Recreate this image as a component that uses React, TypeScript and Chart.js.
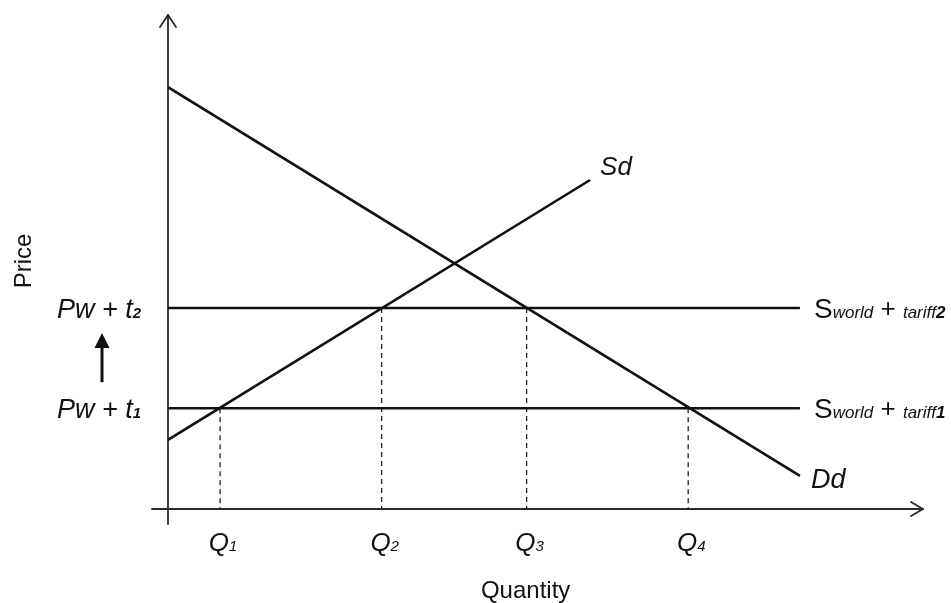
import React, { useEffect, useRef } from "react";
import { Chart, registerables } from "chart.js";

Chart.register(...registerables);

// ---- data ----
const demandQ = [0, 83.7];
const demandP = [85.4, 6.7];
const supplyQ = [0, 55.9];
const supplyP = [14.0, 66.6];
const worldPrices = [20.4, 40.7]; // Pw + t1, Pw + t2
const worldLineEndQ = 83.7;
const qSubs = ["1", "2", "3", "4"];
const qValues = [6.9, 28.3, 47.5, 68.9];
const qPrices = [20.4, 40.7, 40.7, 20.4];
const priceSubs = ["1", "2"];
const tariffSubs = ["1", "2"];
const xAxisTitle = "Quantity";
const yAxisTitle = "Price";

const FONT = '"Liberation Sans", Arial, Helvetica, sans-serif';
const INK = "#111111";

type Run = { text: string; font: string; dy?: number };

function drawRuns(ctx: CanvasRenderingContext2D, x: number, y: number, runs: Run[], align: "left" | "center") {
  let total = 0;
  for (const r of runs) {
    ctx.font = r.font;
    total += ctx.measureText(r.text).width;
  }
  let cx = align === "center" ? x - total / 2 : x;
  ctx.textAlign = "left";
  ctx.textBaseline = "alphabetic";
  for (const r of runs) {
    ctx.font = r.font;
    ctx.fillText(r.text, cx, y + (r.dy || 0));
    cx += ctx.measureText(r.text).width;
  }
}

const decorPlugin = {
  id: "decor",
  beforeDatasetsDraw(chart: any) {
    const { ctx, chartArea } = chart;
    const { left, right, top, bottom } = chartArea;
    ctx.save();
    ctx.strokeStyle = "#2a2a2a";
    ctx.lineWidth = 1.8;
    ctx.lineCap = "round";
    ctx.lineJoin = "round";
    // y axis
    ctx.beginPath();
    ctx.moveTo(left, bottom + 15);
    ctx.lineTo(left, top);
    ctx.stroke();
    ctx.beginPath();
    ctx.moveTo(left - 8, top + 12);
    ctx.lineTo(left, top);
    ctx.lineTo(left + 8, top + 12);
    ctx.stroke();
    // x axis
    ctx.beginPath();
    ctx.moveTo(left - 16, bottom);
    ctx.lineTo(right, bottom);
    ctx.stroke();
    ctx.beginPath();
    ctx.moveTo(right - 12, bottom - 7);
    ctx.lineTo(right, bottom);
    ctx.lineTo(right - 12, bottom + 7);
    ctx.stroke();
    ctx.restore();
  },
  afterDraw(chart: any) {
    const { ctx, chartArea, scales } = chart;
    const xs = scales.x;
    const ys = scales.y;
    ctx.save();
    ctx.fillStyle = INK;

    // axis titles
    ctx.font = `24px ${FONT}`;
    ctx.textAlign = "center";
    ctx.textBaseline = "alphabetic";
    ctx.fillText(xAxisTitle, xs.getPixelForValue(47.5) - 1, 598);
    ctx.save();
    ctx.translate(31, 261);
    ctx.rotate(-Math.PI / 2);
    ctx.textBaseline = "alphabetic";
    ctx.fillText(yAxisTitle, 0, 0);
    ctx.restore();

    // price labels on the left
    worldPrices.forEach((p, i) => {
      const y = ys.getPixelForValue(p);
      drawRuns(ctx, 57, y + 10, [
        { text: "Pw + t", font: `italic 27px ${FONT}` },
        { text: priceSubs[i], font: `italic bold 15px ${FONT}`, dy: 0 },
      ], "left");
    });

    // upward arrow between price labels
    const ax = 102;
    const yLow = ys.getPixelForValue(worldPrices[0]);
    const yHigh = ys.getPixelForValue(worldPrices[1]);
    const tipY = yHigh + 25;
    const baseY = yLow - 26;
    ctx.strokeStyle = INK;
    ctx.lineWidth = 3;
    ctx.beginPath();
    ctx.moveTo(ax, baseY);
    ctx.lineTo(ax, tipY + 12);
    ctx.stroke();
    ctx.beginPath();
    ctx.moveTo(ax, tipY);
    ctx.lineTo(ax - 7.5, tipY + 15);
    ctx.lineTo(ax + 7.5, tipY + 15);
    ctx.closePath();
    ctx.fill();

    // world supply labels on the right
    worldPrices.forEach((p, i) => {
      const y = ys.getPixelForValue(p);
      drawRuns(ctx, 814, y + 10, [
        { text: "S", font: `28px ${FONT}` },
        { text: "world", font: `italic 17px ${FONT}` },
        { text: " + ", font: `26px ${FONT}`, dy: -1 },
        { text: "tariff", font: `italic 17px ${FONT}` },
        { text: tariffSubs[i], font: `italic bold 17px ${FONT}` },
      ], "left");
    });

    // curve labels
    ctx.font = `italic 26px ${FONT}`;
    ctx.textAlign = "left";
    ctx.textBaseline = "alphabetic";
    const sEndX = xs.getPixelForValue(supplyQ[1]);
    const sEndY = ys.getPixelForValue(supplyP[1]);
    ctx.fillText("Sd", sEndX + 10, sEndY - 5);
    const dEndX = xs.getPixelForValue(demandQ[1]);
    const dEndY = ys.getPixelForValue(demandP[1]);
    ctx.font = `italic 27px ${FONT}`;
    ctx.fillText("Dd", dEndX + 11, dEndY + 12);

    // Q labels
    qValues.forEach((q, i) => {
      const x = xs.getPixelForValue(q);
      drawRuns(ctx, x + 3, chartArea.bottom + 42, [
        { text: "Q", font: `italic 26px ${FONT}` },
        { text: qSubs[i], font: `italic 15px ${FONT}`, dy: 0 },
      ], "center");
    });

    ctx.restore();
  },
};

export default function App() {
  const canvasRef = useRef<HTMLCanvasElement | null>(null);

  useEffect(() => {
    const canvas = canvasRef.current;
    if (!canvas) return;

    const solid = {
      showLine: true,
      pointRadius: 0,
      borderColor: INK,
      borderWidth: 2.6,
      fill: false,
    };
    const dashed = {
      showLine: true,
      pointRadius: 0,
      borderColor: "#222222",
      borderWidth: 1.3,
      borderDash: [5, 4],
      fill: false,
    };

    const datasets: any[] = [
      {
        ...solid,
        label: "Dd",
        data: demandQ.map((q, i) => ({ x: q, y: demandP[i] })),
      },
      {
        ...solid,
        label: "Sd",
        data: supplyQ.map((q, i) => ({ x: q, y: supplyP[i] })),
      },
      ...worldPrices.map((p, i) => ({
        ...solid,
        label: `S world + tariff${tariffSubs[i]}`,
        data: [
          { x: 0, y: p },
          { x: worldLineEndQ, y: p },
        ],
      })),
      ...qValues.map((q, i) => ({
        ...dashed,
        label: `Q${qSubs[i]}`,
        data: [
          { x: q, y: qPrices[i] },
          { x: q, y: 0 },
        ],
      })),
    ];

    const chart = new Chart(canvas, {
      type: "scatter",
      data: { datasets },
      options: {
        responsive: false,
        animation: false,
        events: [],
        layout: { padding: { left: 168, right: 28, top: 15, bottom: 94 } },
        plugins: {
          legend: { display: false },
          tooltip: { enabled: false },
          title: { display: false },
        },
        scales: {
          x: { type: "linear", min: 0, max: 100, display: false },
          y: { type: "linear", min: 0, max: 100, display: false },
        },
      },
      plugins: [decorPlugin],
    } as any);

    return () => chart.destroy();
  }, []);

  return (
    <div style={{ position: "fixed", left: 0, top: 0, width: 951, height: 603, background: "#ffffff" }}>
      <canvas ref={canvasRef} width={951} height={603} style={{ display: "block", width: 951, height: 603 }} />
    </div>
  );
}
